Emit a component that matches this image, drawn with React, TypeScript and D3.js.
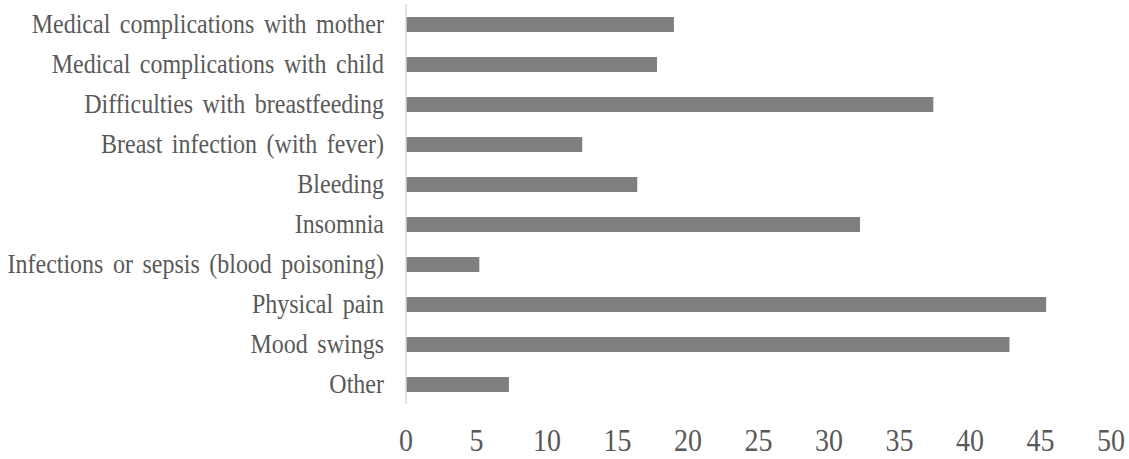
import React, { useEffect, useRef } from 'react';
import * as d3 from 'd3';

const categories = [
  'Medical complications with mother',
  'Medical complications with child',
  'Difficulties with breastfeeding',
  'Breast infection (with fever)',
  'Bleeding',
  'Insomnia',
  'Infections or sepsis (blood poisoning)',
  'Physical pain',
  'Mood swings',
  'Other',
];
const values = [19.0, 17.8, 37.4, 12.5, 16.4, 32.2, 5.2, 45.4, 42.8, 7.3];
const xTicks = [0, 5, 10, 15, 20, 25, 30, 35, 40, 45, 50];

const App = () => {
  const svgRef = useRef<SVGSVGElement>(null);
  const width = 1129;
  const height = 459;

  useEffect(() => {
    const svg = d3.select(svgRef.current);
    svg.selectAll('*').remove();

    const font = "'Liberation Serif', 'DejaVu Serif', serif";
    const textColor = '#595959';

    // escalas
    const x = d3.scaleLinear().domain([0, 50]).range([406, 1111]);
    const y = d3.scaleBand<string>()
      .domain(categories)
      .range([4.5, 404.5])
      .paddingInner(0.625)
      .paddingOuter(0.3125);

    // barras
    svg.append('g')
      .selectAll('rect')
      .data(values)
      .enter()
      .append('rect')
      .attr('x', x(0))
      .attr('y', (d, i) => y(categories[i]) as number)
      .attr('width', d => x(d) - x(0))
      .attr('height', y.bandwidth())
      .attr('fill', '#7f7f7f');

    // eje vertical
    svg.append('line')
      .attr('x1', x(0))
      .attr('x2', x(0))
      .attr('y1', 4)
      .attr('y2', 404)
      .attr('stroke', '#d9d9d9')
      .attr('stroke-width', 1.5);

    // etiquetas de categorías
    svg.append('g')
      .selectAll('text')
      .data(categories)
      .enter()
      .append('text')
      .attr('transform', d => `translate(384, ${(y(d) as number) + y.bandwidth() / 2 + 8}) scale(1, 1.1)`)
      .attr('text-anchor', 'end')
      .style('font-family', font)
      .style('font-size', '24px')
      .style('word-spacing', '3.5px')
      .attr('fill', textColor)
      .text(d => d);

    // etiquetas del eje x
    svg.append('g')
      .selectAll('text')
      .data(xTicks)
      .enter()
      .append('text')
      .attr('transform', d => `translate(${x(d)}, 451) scale(1, 1.15)`)
      .attr('text-anchor', 'middle')
      .style('font-family', font)
      .style('font-size', '28px')
      .attr('fill', textColor)
      .text(d => d);
  }, []);

  return (
    <div style={{ position: 'absolute', left: 0, top: 0, width, height, background: '#fff' }}>
      <svg ref={svgRef} width={width} height={height} style={{ display: 'block' }} />
    </div>
  );
};

export default App;
